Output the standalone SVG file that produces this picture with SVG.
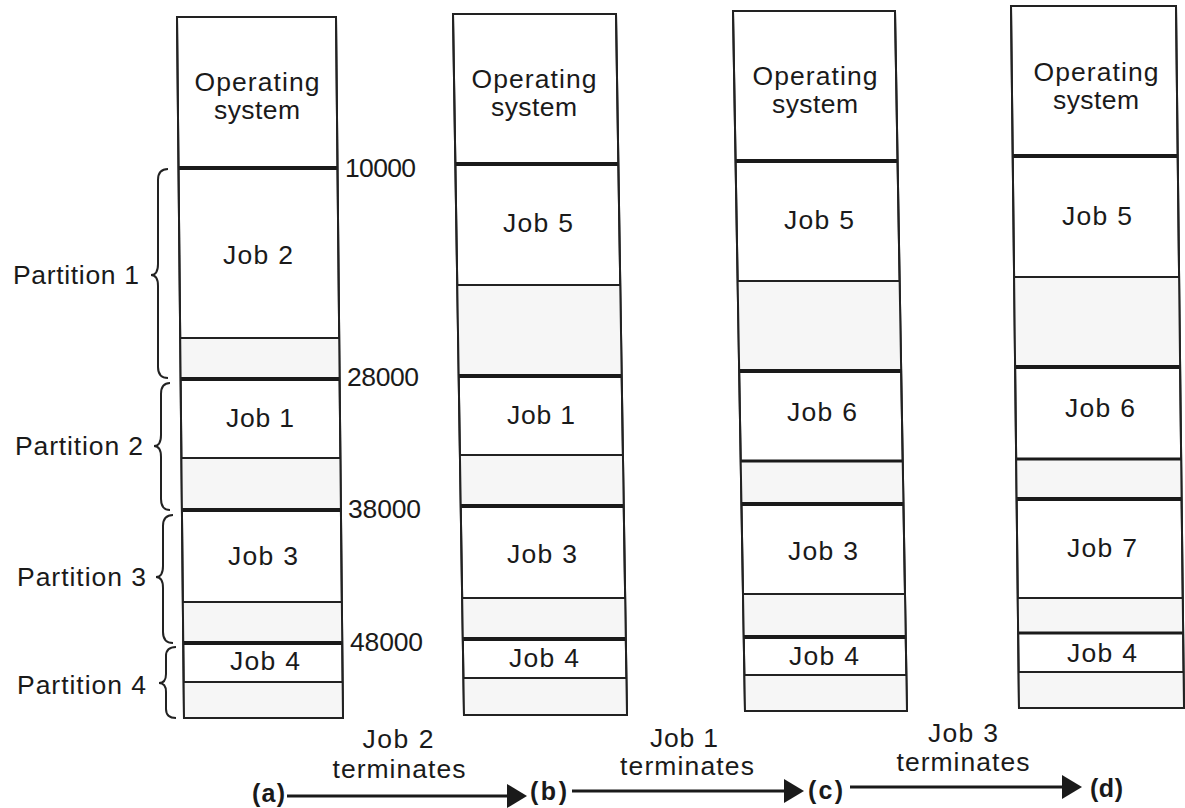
<svg xmlns="http://www.w3.org/2000/svg" width="1185" height="808" viewBox="0 0 1185 808">
<defs>
<style>
.bg{fill:#ffffff}
.outline{fill:#ffffff;stroke:#222;stroke-width:2}
.hole{fill:#f6f6f6;stroke:none}
.thin{stroke:#222;stroke-width:2;fill:none}
.thick{stroke:#1a1a1a;stroke-width:4;fill:none}
.med{stroke:#1a1a1a;stroke-width:3;fill:none}
.t{font-family:"Liberation Sans",Arial,Helvetica,sans-serif;font-size:26.5px;fill:#1a1a1a}
.c{text-anchor:middle}
.lbl{font-family:"Liberation Sans",Arial,Helvetica,sans-serif;font-size:25px;font-weight:bold;fill:#1a1a1a}
.brace{fill:none;stroke:#222;stroke-width:2}
.arrow{stroke:#1a1a1a;stroke-width:3;fill:none}
</style>
<marker id="ah" markerUnits="userSpaceOnUse" markerWidth="21" markerHeight="25" refX="16" refY="12" orient="auto">
<path d="M0,0 L20,12 L0,24 Z" fill="#1a1a1a"/>
</marker>
</defs>
<rect class="bg" x="0" y="0" width="1185" height="808"/>

<!-- Column (a) -->
<g id="mem-a">
<polygon class="outline" points="177,17 336,17 343,718 184,718"/>
<polygon class="hole" points="180.2,339 339.2,339 339.6,379 180.6,379"/>
<polygon class="hole" points="181.4,459 340.4,459 340.9,510 181.9,510"/>
<polygon class="hole" points="182.9,603 341.9,603 342.3,643 183.3,643"/>
<polygon class="hole" points="183.7,683 342.7,683 343,717 184,717"/>
<line class="thick" x1="178.5" y1="168" x2="337.5" y2="168"/>
<line class="thin" x1="180.2" y1="338" x2="339.2" y2="338"/>
<line class="thick" x1="180.6" y1="379" x2="339.6" y2="379"/>
<line class="thin" x1="181.4" y1="458" x2="340.4" y2="458"/>
<line class="thick" x1="181.9" y1="510" x2="340.9" y2="510"/>
<line class="thin" x1="182.9" y1="602" x2="341.9" y2="602"/>
<line class="thick" x1="183.3" y1="643" x2="342.3" y2="643"/>
<line class="thin" x1="183.7" y1="682" x2="342.7" y2="682"/>
<polygon points="177,17 336,17 343,718 184,718" fill="none" stroke="#222" stroke-width="2"/>
<text class="t c" x="257" y="91" textLength="125">Operating</text>
<text class="t c" x="257" y="119" textLength="86">system</text>
<text class="t c" x="258" y="264" textLength="70">Job 2</text>
<text class="t c" x="260" y="427" textLength="68">Job 1</text>
<text class="t c" x="263" y="565" textLength="70">Job 3</text>
<text class="t c" x="265" y="670" textLength="70">Job 4</text>
</g>

<!-- Column (b) -->
<g id="mem-b">
<polygon class="outline" points="453,14 616,14 627,715 464,715"/>
<polygon class="hole" points="457.3,286 620.3,286 621.7,376 458.7,376"/>
<polygon class="hole" points="459.9,456 622.9,456 623.7,506 460.7,506"/>
<polygon class="hole" points="462.2,599 625.2,599 625.8,639 462.8,639"/>
<polygon class="hole" points="463.4,679 626.4,679 627,714 464,714"/>
<line class="thick" x1="455.4" y1="164" x2="618.4" y2="164"/>
<line class="thin" x1="457.3" y1="285" x2="620.3" y2="285"/>
<line class="thick" x1="458.7" y1="376" x2="621.7" y2="376"/>
<line class="thin" x1="459.9" y1="455" x2="622.9" y2="455"/>
<line class="thick" x1="460.7" y1="506" x2="623.7" y2="506"/>
<line class="thin" x1="462.2" y1="598" x2="625.2" y2="598"/>
<line class="thick" x1="462.8" y1="639" x2="625.8" y2="639"/>
<line class="thin" x1="463.4" y1="678" x2="626.4" y2="678"/>
<polygon points="453,14 616,14 627,715 464,715" fill="none" stroke="#222" stroke-width="2"/>
<text class="t c" x="534" y="88" textLength="125">Operating</text>
<text class="t c" x="534" y="116" textLength="86">system</text>
<text class="t c" x="538" y="232" textLength="70">Job 5</text>
<text class="t c" x="541" y="424" textLength="68">Job 1</text>
<text class="t c" x="542" y="563" textLength="70">Job 3</text>
<text class="t c" x="544" y="667" textLength="70">Job 4</text>
</g>

<!-- Column (c) -->
<g id="mem-c">
<polygon class="outline" points="733,11 895,11 907,711 745,711"/>
<polygon class="hole" points="737.6,282 899.6,282 901.1,371 739.1,371"/>
<polygon class="hole" points="740.7,462 902.7,462 903.4,504 741.4,504"/>
<polygon class="hole" points="742.9,595 904.9,595 905.6,637 743.6,637"/>
<polygon class="hole" points="744.3,676 906.3,676 906.9,710 744.9,710"/>
<line class="thick" x1="735.6" y1="161" x2="897.6" y2="161"/>
<line class="thin" x1="737.6" y1="281" x2="899.6" y2="281"/>
<line class="thick" x1="739.1" y1="371" x2="901.1" y2="371"/>
<line class="med" x1="740.7" y1="461" x2="902.7" y2="461"/>
<line class="thick" x1="741.4" y1="504" x2="903.4" y2="504"/>
<line class="thin" x1="742.9" y1="594" x2="904.9" y2="594"/>
<line class="thick" x1="743.6" y1="637" x2="905.6" y2="637"/>
<line class="thin" x1="744.3" y1="675" x2="906.3" y2="675"/>
<polygon points="733,11 895,11 907,711 745,711" fill="none" stroke="#222" stroke-width="2"/>
<text class="t c" x="815" y="85" textLength="125">Operating</text>
<text class="t c" x="815" y="113" textLength="86">system</text>
<text class="t c" x="819" y="229" textLength="70">Job 5</text>
<text class="t c" x="822" y="421" textLength="70">Job 6</text>
<text class="t c" x="823" y="560" textLength="70">Job 3</text>
<text class="t c" x="824" y="665" textLength="70">Job 4</text>
</g>

<!-- Column (d) -->
<g id="mem-d">
<polygon class="outline" points="1011,6 1176,6 1184,708 1019,708"/>
<polygon class="hole" points="1014.1,278 1179.1,278 1180.1,367 1015.1,367"/>
<polygon class="hole" points="1016.2,460 1181.2,460 1181.6,499 1016.6,499"/>
<polygon class="hole" points="1017.7,599 1182.7,599 1183.1,633 1018.1,633"/>
<polygon class="hole" points="1018.6,673 1183.6,673 1184,707 1019,707"/>
<line class="thick" x1="1012.7" y1="156" x2="1177.7" y2="156"/>
<line class="thin" x1="1014.1" y1="277" x2="1179.1" y2="277"/>
<line class="thick" x1="1015.1" y1="367" x2="1180.1" y2="367"/>
<line class="med" x1="1016.2" y1="459" x2="1181.2" y2="459"/>
<line class="thick" x1="1016.6" y1="499" x2="1181.6" y2="499"/>
<line class="thin" x1="1017.7" y1="598" x2="1182.7" y2="598"/>
<line class="med" x1="1018.1" y1="633" x2="1183.1" y2="633"/>
<line class="thin" x1="1018.6" y1="672" x2="1183.6" y2="672"/>
<polygon points="1011,6 1176,6 1184,708 1019,708" fill="none" stroke="#222" stroke-width="2"/>
<text class="t c" x="1096" y="81" textLength="125">Operating</text>
<text class="t c" x="1096" y="109" textLength="86">system</text>
<text class="t c" x="1097" y="225" textLength="70">Job 5</text>
<text class="t c" x="1100" y="417" textLength="70">Job 6</text>
<text class="t c" x="1102" y="557" textLength="70">Job 7</text>
<text class="t c" x="1102" y="662" textLength="70">Job 4</text>
</g>

<!-- Partitions (braces + labels) -->
<g id="partition-1">
<path class="brace" d="M168,169 Q158,169 158,180 L158,264 Q158,275 151,275 Q158,275 158,286 L158,367 Q158,378 168,378"/>
<text class="t" x="13" y="284" textLength="126">Partition 1</text>
</g>
<g id="partition-2">
<path class="brace" d="M170,383 Q161,383 161,394 L161,435 Q161,446 154,446 Q161,446 161,457 L161,499 Q161,510 170,510"/>
<text class="t" x="15" y="455" textLength="128">Partition 2</text>
</g>
<g id="partition-3">
<path class="brace" d="M173,515 Q163,515 163,526 L163,566 Q163,577 156,577 Q163,577 163,588 L163,632 Q163,643 173,643"/>
<text class="t" x="17" y="586" textLength="129">Partition 3</text>
</g>
<g id="partition-4">
<path class="brace" d="M176,647 Q166,647 166,656 L166,674 Q166,683 159,683 Q166,683 166,692 L166,709 Q166,718 176,718"/>
<text class="t" x="17" y="694" textLength="129">Partition 4</text>
</g>

<!-- Addresses -->
<g id="addresses">
<text class="t" x="345" y="177" textLength="71">10000</text>
<text class="t" x="347" y="386" textLength="72">28000</text>
<text class="t" x="348" y="518" textLength="73">38000</text>
<text class="t" x="350" y="651" textLength="73">48000</text>
</g>

<!-- State labels -->
<g id="state-a"><text class="lbl" x="252" y="802" textLength="33">(a)</text></g>
<g id="state-b"><text class="lbl" x="530" y="800" textLength="37">(b)</text></g>
<g id="state-c"><text class="lbl" x="808" y="799" textLength="35">(c)</text></g>
<g id="state-d"><text class="lbl" x="1090" y="797" textLength="33">(d)</text></g>

<!-- Connectors -->
<g id="connectors">
<line class="arrow" x1="287" y1="796" x2="523" y2="796" marker-end="url(#ah)"/>
<line class="arrow" x1="572" y1="791" x2="800" y2="791" marker-end="url(#ah)"/>
<line class="arrow" x1="850" y1="787" x2="1078" y2="787" marker-end="url(#ah)"/>
<text class="t c" x="398" y="748" textLength="71">Job 2</text>
<text class="t c" x="399" y="778" textLength="133">terminates</text>
<text class="t c" x="684" y="747" textLength="68">Job 1</text>
<text class="t c" x="687" y="775" textLength="134">terminates</text>
<text class="t c" x="963" y="742" textLength="70">Job 3</text>
<text class="t c" x="963" y="771" textLength="133">terminates</text>
</g>
</svg>
